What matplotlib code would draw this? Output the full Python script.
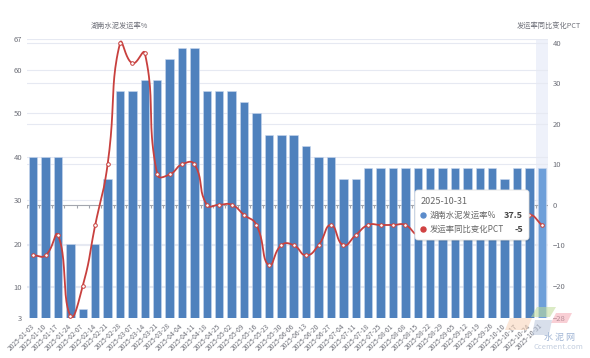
import numpy as np
import matplotlib.pyplot as plt
from matplotlib.patches import FancyBboxPatch, Polygon

plt.rcParams['font.family'] = ['Noto Sans CJK SC', 'DejaVu Sans']

# weekly dates (01-31 and 10-03 skipped in the source)
dates = ['2025-01-03', '2025-01-10', '2025-01-17', '2025-01-24', '2025-02-07',
         '2025-02-14', '2025-02-21', '2025-02-28', '2025-03-07', '2025-03-14',
         '2025-03-21', '2025-03-28', '2025-04-04', '2025-04-11', '2025-04-18',
         '2025-04-25', '2025-05-02', '2025-05-09', '2025-05-16', '2025-05-23',
         '2025-05-30', '2025-06-06', '2025-06-13', '2025-06-20', '2025-06-27',
         '2025-07-04', '2025-07-11', '2025-07-18', '2025-07-25', '2025-08-01',
         '2025-08-08', '2025-08-15', '2025-08-22', '2025-08-29', '2025-09-05',
         '2025-09-12', '2025-09-19', '2025-09-26', '2025-10-10', '2025-10-17',
         '2025-10-24', '2025-10-31']

# 湖南水泥发运率%
rate = [40, 40, 40, 20, 5, 20, 35, 55, 55, 57.5,
        57.5, 62.5, 65, 65, 55, 55, 55, 52.5, 50, 45,
        45, 45, 42.5, 40, 40, 35, 35, 37.5, 37.5, 37.5,
        37.5, 37.5, 37.5, 37.5, 37.5, 37.5, 37.5, 37.5, 35, 37.5,
        37.5, 37.5]

# 发运率同比变化PCT
yoy = [-12.5, -12.5, -7.5, -27.5, -20, -5, 10, 40, 35, 37.5,
       7.5, 7.5, 10, 10, 0, 0, 0, -2.5, -5, -15,
       -10, -10, -12.5, -10, -5, -10, -7.5, -5, -5, -5,
       -5, -7.5, -7.5, -7.5, -7.5, -5, -5, -5, -7.5, -5,
       -2.5, -5]

left_ticks = [3, 10, 20, 30, 40, 50, 60, 67]
right_ticks = [-28, -20, -10, 0, 10, 20, 30, 40]
LMIN, LMAX = 3, 67
RMIN, RMAX = -28, 41

BAR = '#4F81BD'
BAR_HI = '#6E9FD9'
RED = '#C8403E'
GRID = '#E6E9F2'
TXT = '#6E7079'


def echarts_smooth(xv, yv, sx, sy, smooth=0.5, n=24):
    # bezier smoothing like echarts line series (in pixel space)
    P = np.column_stack([np.asarray(xv, float) * sx, np.asarray(yv, float) * sy])
    m = len(P)
    cps = []
    for i in range(m):
        prev = P[i - 1] if i > 0 else P[i]
        nxt = P[i + 1] if i < m - 1 else P[i]
        d0 = np.hypot(*(P[i] - prev))
        d1 = np.hypot(*(nxt - P[i]))
        s = d0 + d1
        if s:
            d0, d1 = d0 / s, d1 / s
        v = nxt - prev
        cps.append((P[i] - v * smooth * d0, P[i] + v * smooth * d1))
    t = np.linspace(0, 1, n)[:, None]
    segs = []
    for i in range(m - 1):
        a, b = P[i], P[i + 1]
        c1, c2 = cps[i][1], cps[i + 1][0]
        segs.append((1 - t) ** 3 * a + 3 * (1 - t) ** 2 * t * c1
                    + 3 * (1 - t) * t ** 2 * c2 + t ** 3 * b)
    pts = np.vstack(segs)
    return pts[:, 0] / sx, pts[:, 1] / sy


W, H = 590, 358
L, R, T, B = 27, 548, 39, 318
fig = plt.figure(figsize=(W / 100, H / 100), dpi=100)
ax = fig.add_axes([L / W, 1 - B / H, (R - L) / W, (B - T) / H])
ax2 = ax.twinx()

x = np.arange(len(dates))
n = len(dates)
ax.set_xlim(-0.5, n - 0.5)
ax.set_ylim(LMIN, LMAX)
ax2.set_ylim(RMIN, RMAX)


def r2l(v):
    return LMIN + (v - RMIN) / (RMAX - RMIN) * (LMAX - LMIN)


# hover shadow on last category
ax.axvspan(n - 1.5, n - 0.5, color='#EEF1FA', zorder=0, lw=0)

for v in left_ticks[1:]:
    ax.axhline(v, color=GRID, lw=0.8, zorder=0.5)
for v in right_ticks[1:]:
    if v != 0:
        ax.axhline(r2l(v), color=GRID, lw=0.8, zorder=0.5)

# category axis sits at right-axis zero
y0 = r2l(0)
ax.axhline(y0, color='#A3A6AE', lw=0.8, zorder=1)
ax.vlines(np.arange(-0.5, n), y0 - 0.7, y0, color='#A3A6AE', lw=0.8, zorder=1)

colors = [BAR] * (n - 1) + [BAR_HI]
ax.bar(x, rate, width=0.68, color=colors, edgecolor='#C9D8EE', linewidth=0.4, zorder=2)

cw = (R - L) / n
py = (B - T) / (RMAX - RMIN)
sx, sy = echarts_smooth(x, yoy, cw, py)
ax2.plot(sx, sy, color=RED, lw=1.3, zorder=3, solid_capstyle='round')
ax2.plot(x, yoy, 'o', ms=2.6, mfc='white', mec=RED, mew=0.7, zorder=4)

for a in (ax, ax2):
    for s in a.spines.values():
        s.set_visible(False)

ax.set_yticks(left_ticks)
ax.tick_params(axis='y', length=0, pad=3.5, labelsize=5.5, labelcolor=TXT)
ax2.set_yticks(right_ticks)
ax2.tick_params(axis='y', length=0, pad=3.5, labelsize=5.5, labelcolor=TXT)

ax.set_xticks(x)
ax.set_xticklabels(dates, rotation=45, ha='right', va='center',
                   rotation_mode='anchor', fontsize=4.8, color=TXT)
ax.tick_params(axis='x', length=0, pad=5)

# overlay in pixel coordinates
ov = fig.add_axes([0, 0, 1, 1])
ov.set_xlim(0, W)
ov.set_ylim(H, 0)
ov.axis('off')

ov.text(119, 26, '湖南水泥发运率%', ha='center', va='center', fontsize=5.2, color=TXT)
ov.text(549, 26, '发运率同比变化PCT', ha='center', va='center', fontsize=5.2, color=TXT)

# watermark
for pts, c in [([(537, 307), (556, 307), (550, 317), (531, 317)], '#BEDC96'),
               ([(556, 313), (572, 313), (567, 323), (551, 323)], '#F5A9B4'),
               ([(510, 318), (532, 318), (527, 330), (505, 330)], '#F8D2B6'),
               ([(535, 320), (552, 320), (549, 335), (532, 335)], '#B9C6DC')]:
    ov.add_patch(Polygon(pts, closed=True, color=c, alpha=0.55, lw=0))
ov.text(559, 337, '水 泥 网', ha='center', va='center', fontsize=6.5, color='#9FB4D4')
ov.text(558, 347, 'Ccement.com', ha='center', va='center', fontsize=5.5, color='#C3CEDF')

# tooltip
ov.add_patch(FancyBboxPatch((416, 191.5), 114, 50, boxstyle='round,pad=0,rounding_size=3',
                            fc='black', alpha=0.10, lw=0))
ov.add_patch(FancyBboxPatch((415, 190), 114, 50, boxstyle='round,pad=0,rounding_size=3',
                            fc='white', ec='#E2E2E2', lw=0.6))
ov.text(421, 201, dates[-1], ha='left', va='center', fontsize=6.5, color='#666666')
ov.plot([423], [215], 'o', ms=3.6, color='#5B8CCB')
ov.plot([423], [229], 'o', ms=3.6, color='#D04242')
ov.text(430, 215, '湖南水泥发运率%', ha='left', va='center', fontsize=6, color='#666666')
ov.text(430, 229, '发运率同比变化PCT', ha='left', va='center', fontsize=6, color='#666666')
ov.text(523, 215, f'{rate[-1]:g}', ha='right', va='center', fontsize=6.5,
        fontweight='bold', color='#464646')
ov.text(523, 229, f'{yoy[-1]:g}', ha='right', va='center', fontsize=6.5,
        fontweight='bold', color='#464646')

fig.savefig('out.png', dpi=100)
